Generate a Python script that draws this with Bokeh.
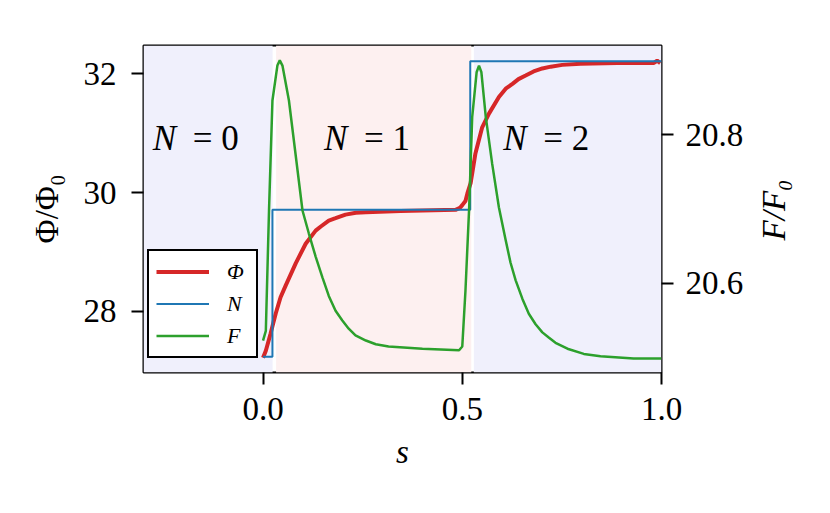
import math
from bokeh.plotting import figure
from bokeh.layouts import row
from bokeh.models import (Range1d, LinearAxis, FixedTicker, PrintfTickFormatter,
                          Legend, LegendItem, BoxAnnotation, ColumnDataSource)
from bokeh.core.properties import value
from bokeh.embed import file_html
from bokeh.resources import INLINE

# ---------------- data ----------------
s_phi = [0.0, 0.007, 0.019, 0.032, 0.044, 0.057, 0.082, 0.107, 0.132, 0.145,
         0.165, 0.182, 0.207, 0.233, 0.258, 0.345, 0.483, 0.490, 0.495, 0.500,
         0.508, 0.513, 0.521, 0.533, 0.550, 0.567, 0.592, 0.609, 0.626, 0.641,
         0.659, 0.679, 0.701, 0.722, 0.751, 0.797, 0.889, 0.980, 0.989, 0.997]
phi = [27.22, 27.34, 27.63, 27.97, 28.24, 28.44, 28.81, 29.14, 29.36, 29.43,
       29.53, 29.57, 29.63, 29.66, 29.67, 29.69, 29.71, 29.73, 29.75, 29.79,
       29.86, 29.99, 30.16, 30.66, 31.10, 31.33, 31.61, 31.75, 31.83, 31.91,
       31.97, 32.04, 32.09, 32.12, 32.15, 32.17, 32.18, 32.18, 32.22, 32.18]

# N (step), drawn on the Phi axis
s_n = [0.0, 0.0236, 0.0236, 0.520, 0.520, 1.0]
n_on_phi_axis = [27.24, 27.24, 29.71, 29.71, 32.21, 32.21]

# F on the right axis
s_f = [0.0, 0.007, 0.015, 0.0236, 0.036, 0.042, 0.0487, 0.065, 0.099, 0.115,
       0.132, 0.149, 0.165, 0.182, 0.199, 0.215, 0.232, 0.258, 0.283, 0.315,
       0.400, 0.492, 0.500, 0.508, 0.517, 0.525, 0.536, 0.542, 0.548, 0.559,
       0.575, 0.592, 0.609, 0.621, 0.634, 0.651, 0.667, 0.684, 0.701, 0.717,
       0.734, 0.764, 0.805, 0.847, 0.930, 1.0]
f_vals = [20.523, 20.536, 20.698, 20.846, 20.893, 20.900, 20.893, 20.846, 20.698, 20.667,
          20.636, 20.608, 20.583, 20.563, 20.550, 20.539, 20.530, 20.523, 20.518, 20.515,
          20.512, 20.510, 20.515, 20.590, 20.698, 20.824, 20.884, 20.893, 20.884, 20.824,
          20.761, 20.702, 20.658, 20.628, 20.604, 20.579, 20.559, 20.545, 20.534, 20.527,
          20.520, 20.512, 20.505, 20.502, 20.499, 20.499]

# shaded regions (N = 0, 1, 2)
region_left = [-0.3, 0.0327, 0.529]
region_right = [0.024, 0.5226, 1.0]
region_colors = ["#f0f0fc", "#fdf0f0", "#f0f0fc"]

# region labels
region_n_text = ["N", "N", "N"]
region_eq_text = ["= 0", "= 1", "= 2"]
region_label_x = [-0.2767, 0.1528, 0.603]
region_label_y = [30.91, 30.91, 30.91]

x_ticks = [0.0, 0.5, 1.0]
phi_ticks = [28, 30, 32]
f_ticks = [20.6, 20.8]

X_RANGE = (-0.3, 1.0)
PHI_RANGE = (26.973, 32.476)
F_RANGE = (20.480, 20.920)

FONT = "Liberation Serif"
FS = "33px"
TOP, BOTTOM = 45, 125

# ---------------- main figure ----------------
p = figure(width=750, height=497, title=None,
           x_range=Range1d(*X_RANGE), y_range=Range1d(*PHI_RANGE),
           output_backend="svg", toolbar_location=None,
           min_border_left=143, min_border_right=89,
           min_border_top=TOP, min_border_bottom=BOTTOM)
p.extra_y_ranges = {"F": Range1d(*F_RANGE)}
p.xgrid.visible = False
p.ygrid.visible = False
p.outline_line_color = "black"
p.outline_line_width = 2
p.outline_line_alpha = 1.0
p.background_fill_color = "white"
p.border_fill_color = "white"

for l, r, c in zip(region_left, region_right, region_colors):
    p.add_layout(BoxAnnotation(left=l, right=r, fill_color=c, fill_alpha=1.0,
                               line_color=None, level="underlay"))

r_phi = p.line(s_phi, phi, line_color="#d62728", line_width=4)
r_n = p.line(s_n, n_on_phi_axis, line_color="#1f77b4", line_width=2)
r_f = p.line(s_f, f_vals, line_color="#2ca02c", line_width=2.5, y_range_name="F")

ax_r = LinearAxis(y_range_name="F")
p.add_layout(ax_r, "right")
ax_b = p.below[0]
ax_l = p.left[0]

ax_b.ticker = FixedTicker(ticks=x_ticks)
ax_b.formatter = PrintfTickFormatter(format="%.1f")
ax_l.ticker = FixedTicker(ticks=phi_ticks)
ax_l.formatter = PrintfTickFormatter(format="%d")
ax_r.ticker = FixedTicker(ticks=f_ticks)
ax_r.formatter = PrintfTickFormatter(format="%.1f")

for ax in [ax_b, ax_l, ax_r]:
    ax.axis_line_color = None
    ax.major_tick_line_color = "black"
    ax.major_tick_line_width = 2
    ax.major_tick_out = 12
    ax.major_tick_in = 0
    ax.minor_tick_line_color = None
    ax.major_label_text_font = FONT
    ax.major_label_text_font_size = FS
    ax.major_label_text_color = "black"
    ax.major_label_standoff = 12
    ax.axis_label_text_font = FONT
    ax.axis_label_text_font_size = FS
    ax.axis_label_text_color = "black"

ax_b.major_label_standoff = 13
ax_b.axis_label = "s"
ax_b.axis_label_text_font_style = "italic"
ax_b.axis_label_standoff = 11
ax_l.major_label_standoff = 15
ax_l.axis_label = "Φ/Φ₀"
ax_l.axis_label_text_font_style = "normal"
ax_l.axis_label_standoff = 16

src = ColumnDataSource(dict(x=region_label_x, y=region_label_y,
                            n=region_n_text, eq=region_eq_text))
p.text(x="x", y="y", text="n", source=src, text_font=value(FONT),
       text_font_size=value("35px"), text_font_style=value("italic"),
       text_align=value("left"), text_baseline=value("middle"), text_color="black")
p.text(x="x", y="y", text="eq", source=src, text_font=value(FONT), x_offset=40,
       text_font_size=value("35px"), text_font_style=value("normal"),
       text_align=value("left"), text_baseline=value("middle"), text_color="black")

legend = Legend(items=[LegendItem(label="Φ", renderers=[r_phi]),
                       LegendItem(label="N", renderers=[r_n]),
                       LegendItem(label="F", renderers=[r_f])],
                location=(4, 14), orientation="vertical",
                border_line_color="black", border_line_width=2, border_line_alpha=1.0,
                background_fill_color="white", background_fill_alpha=1.0,
                label_text_font=FONT, label_text_font_size="22px",
                label_text_font_style="italic", label_text_color="black",
                glyph_width=53, glyph_height=27, label_height=27, label_width=22,
                label_standoff=18, padding=7, spacing=5, margin=0)
p.add_layout(legend)

# ---------------- narrow strip carrying the right-axis title (reads bottom-to-top) ----------------
p2 = figure(width=64, height=497, title=None,
            x_range=Range1d(0, 1), y_range=Range1d(*PHI_RANGE),
            x_axis_location=None, y_axis_location=None,
            output_backend="svg", toolbar_location=None,
            min_border_left=0, min_border_right=0,
            min_border_top=TOP, min_border_bottom=BOTTOM)
p2.xgrid.visible = False
p2.ygrid.visible = False
p2.outline_line_color = None
p2.background_fill_color = "white"
p2.border_fill_color = "white"
p2.text(x=[0.36], y=[29.709], text=["F/F₀"], angle=math.pi / 2,
        text_font=value(FONT), text_font_size=value(FS), text_font_style=value("italic"),
        text_align=value("center"), text_baseline=value("middle"), text_color="black")

layout = row(p, p2, spacing=0)
open("out.html", "w").write(file_html(layout, INLINE))
